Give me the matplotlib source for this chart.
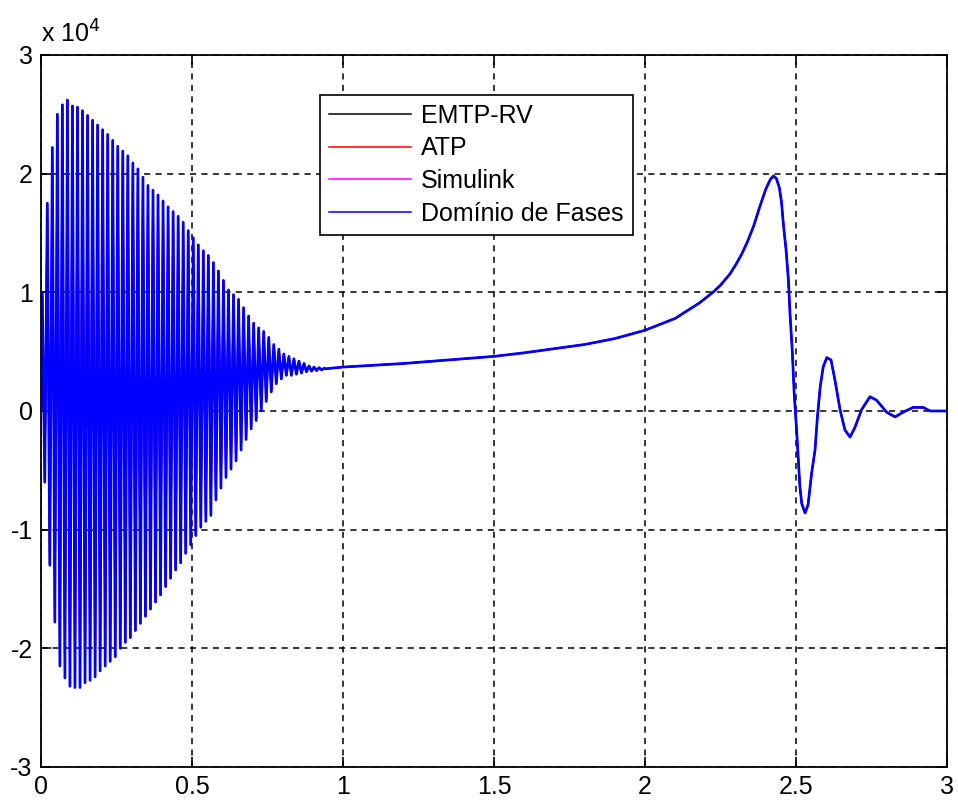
import numpy as np
import matplotlib
matplotlib.use("Agg")
import matplotlib.pyplot as plt

plt.rcParams['font.family'] = ['Liberation Sans', 'DejaVu Sans']

# values are in units of 10^4
# one upper / lower peak per 60 Hz cycle, 0 .. 0.95 s
cycle_period = 1.0 / 60.0
osc_upper = [1.00, 1.75, 2.22, 2.50, 2.58, 2.62, 2.57, 2.56, 2.53, 2.49,
             2.45, 2.41, 2.37, 2.33, 2.28, 2.23, 2.19, 2.15, 2.09, 2.04,
             1.97, 1.90, 1.86, 1.82, 1.77, 1.72, 1.68, 1.64, 1.59, 1.52,
             1.46, 1.40, 1.35, 1.31, 1.25, 1.18, 1.10, 1.02, 0.98, 0.94,
             0.87, 0.80, 0.74, 0.70, 0.67, 0.62, 0.56, 0.52, 0.48, 0.46,
             0.44, 0.42, 0.40, 0.38, 0.37, 0.365, 0.36]
osc_lower = [-0.60, -1.30, -1.78, -2.15, -2.25, -2.32, -2.33, -2.33, -2.29, -2.27,
             -2.24, -2.19, -2.15, -2.11, -2.07, -2.00, -1.95, -1.91, -1.85, -1.79,
             -1.73, -1.67, -1.61, -1.55, -1.48, -1.41, -1.34, -1.28, -1.20, -1.13,
             -1.05, -0.98, -0.93, -0.88, -0.75, -0.65, -0.56, -0.49, -0.42, -0.33,
             -0.24, -0.15, -0.08, 0.00, 0.08, 0.16, 0.23, 0.27, 0.30, 0.30,
             0.31, 0.32, 0.33, 0.335, 0.34, 0.345, 0.355]

# smooth part after the oscillation dies out
tail_t = [0.96, 1.0, 1.2, 1.4, 1.5, 1.6, 1.8, 1.9, 2.0, 2.1, 2.18, 2.2,
          2.225, 2.25, 2.28, 2.30, 2.32, 2.34, 2.36, 2.38, 2.40, 2.415,
          2.425, 2.435, 2.445, 2.452, 2.458,
          2.467, 2.475, 2.48, 2.488, 2.494, 2.502, 2.508, 2.513, 2.519, 2.53,
          2.54, 2.552, 2.563, 2.571, 2.58, 2.59, 2.602, 2.616, 2.629, 2.646,
          2.662, 2.679, 2.695, 2.717, 2.745, 2.767, 2.8, 2.828, 2.855, 2.888,
          2.921, 2.944, 3.0]
tail_v = [0.36, 0.37, 0.40, 0.44, 0.46, 0.49, 0.56, 0.61, 0.68, 0.78, 0.91, 0.95,
          1.00, 1.06, 1.15, 1.23, 1.32, 1.43, 1.56, 1.72, 1.87, 1.95,
          1.98, 1.96, 1.88, 1.76, 1.58,
          1.36, 1.10, 0.83, 0.49, 0.15, -0.16, -0.43, -0.64, -0.78, -0.86,
          -0.79, -0.52, -0.33, -0.05, 0.20, 0.37, 0.45, 0.43, 0.26, 0.01,
          -0.16, -0.22, -0.14, 0.01, 0.12, 0.09, -0.01, -0.05, -0.01, 0.03,
          0.03, 0.0, 0.0]

series_names = ['EMTP-RV', 'ATP', 'Simulink', 'Domínio de Fases']
series_colors = ['black', 'red', 'magenta', 'blue']
series_widths = [1.2, 1.2, 1.2, 1.95]   # blue trace sits on top and hides the others

x_ticks = [0, 0.5, 1, 1.5, 2, 2.5, 3]
x_tick_labels = ['0', '0.5', '1', '1.5', '2', '2.5', '3']
y_ticks = [-3, -2, -1, 0, 1, 2, 3]
y_tick_labels = ['-3', '-2', '-1', '0', '1', '2', '3']

# build the waveform: start point, zig-zag through the peaks, then the tail
n = len(osc_upper)
k = np.arange(n)
peak_t = np.column_stack([k * cycle_period + 0.25 * cycle_period,
                          k * cycle_period + 0.75 * cycle_period]).ravel()
peak_v = np.column_stack([osc_upper, osc_lower]).ravel()
t = np.concatenate([[0.0], peak_t, tail_t])
v = np.concatenate([[0.0], peak_v, tail_v])

fig = plt.figure(figsize=(9.58, 8.07), dpi=100)
ax = fig.add_axes([0.0428, 0.0496, 0.9457, 0.8823])

for name, col, w in zip(series_names, series_colors, series_widths):
    ax.plot(t, v, color=col, lw=w, label=name)

ax.set_xlim(0, 3)
ax.set_ylim(-3, 3)
ax.set_xticks(x_ticks)
ax.set_xticklabels(x_tick_labels)
ax.set_yticks(y_ticks)
ax.set_yticklabels(y_tick_labels)
ax.tick_params(direction='in', top=True, right=True, length=7, width=1.2,
               labelsize=18, pad=6)
ax.grid(True, color='black', linestyle=(0, (4, 3.5)), linewidth=1.1)
for s in ax.spines.values():
    s.set_linewidth(1.3)

ax.text(0.0, 1.018, r'x 10$^{4}$', transform=ax.transAxes, fontsize=18,
        ha='left', va='baseline')

leg = ax.legend(loc='upper left', bbox_to_anchor=(0.308, 0.944), fontsize=18,
                fancybox=False, framealpha=1, edgecolor='black',
                handlelength=3.3, handletextpad=0.4, labelspacing=0.35,
                borderpad=0.35, borderaxespad=0)
leg.get_frame().set_linewidth(1.2)
for line in leg.get_lines():
    line.set_linewidth(1.1)

fig.savefig('out.png', dpi=100)
